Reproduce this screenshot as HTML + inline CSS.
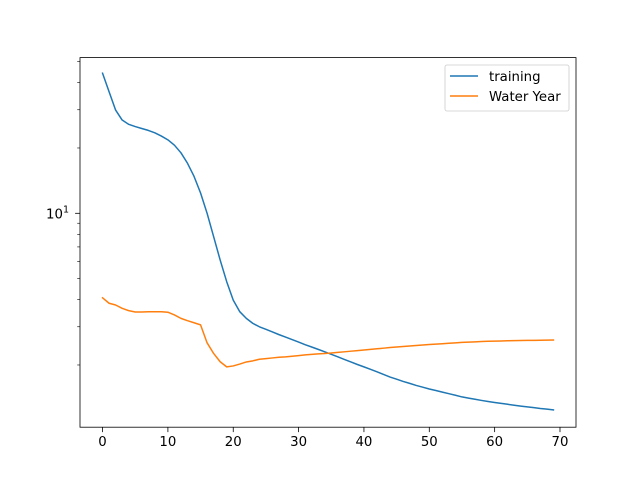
<!DOCTYPE html>
<html><head><meta charset="utf-8"><style>
body{margin:0;background:#fff}
svg text{font-family:"DejaVu Sans","Liberation Sans",sans-serif;font-size:13.3px;fill:#000}
</style></head><body>
<svg id="chart" width="640" height="480" viewBox="0 0 640 480" xmlns="http://www.w3.org/2000/svg">
<rect width="640" height="480" fill="#fff"/>
<g id="plot"></g>
</svg>
<script>
const epochs = Array.from({length:70},(_,i)=>i);
const trainingValues = [44.2,36.3,29.9,26.9,25.7,25.1,24.6,24.1,23.5,22.7,21.8,20.6,19.0,17.0,14.8,12.4,10.0,7.8,6.09,4.84,3.98,3.52,3.28,3.11,3.0,2.92,
2.84,2.76,2.69,2.62,2.55,2.48,2.42,2.36,2.30,2.24,2.18,2.12,2.065,2.01,1.96,1.91,1.86,1.81,1.76,1.72,1.68,1.645,1.61,1.58,1.55,1.525,1.50,1.475,1.45,1.425,1.407,1.39,1.373,1.357,1.343,1.33,1.318,1.305,1.293,1.283,1.272,1.261,1.252,1.241];
const waterYearValues = [4.08,3.85,3.78,3.65,3.56,3.51,3.51,3.52,3.52,3.52,3.50,3.40,3.28,3.20,3.13,3.06,2.53,2.26,2.07,1.96,1.98,2.02,2.065,2.09,2.125,2.14,
2.155,2.17,2.18,2.195,2.21,2.225,2.237,2.25,2.26,2.27,2.286,2.30,2.315,2.33,2.344,2.36,2.375,2.39,2.407,2.42,2.433,2.446,2.459,2.472,2.485,2.496,2.506,2.517,2.53,2.541,2.549,2.557,2.565,2.571,2.576,2.581,2.587,2.59,2.592,2.595,2.598,2.60,2.603,2.606];
const xTicks = [0,10,20,30,40,50,60,70];
const yMinorTicks = [2,3,4,5,6,7,8,9,20,30,40,50];
const seriesNames = ["training","Water Year"];
const seriesColors = ["#1f77b4","#ff7f0e"];

const L=80,R=576,T=57.6,B=427.2;
const xMin=-3.45,xMax=72.45;
const logMin=0.0143,logMax=1.7175;
const X=v=>L+(v-xMin)/(xMax-xMin)*(R-L);
const Y=v=>B-(Math.log10(v)-logMin)/(logMax-logMin)*(B-T);
const NS="http://www.w3.org/2000/svg";
const g=document.getElementById('plot');
function mk(tag,attrs,parent){const e=document.createElementNS(NS,tag);for(const k in attrs)e.setAttribute(k,attrs[k]);(parent||g).appendChild(e);return e;}

[trainingValues,waterYearValues].forEach((vals,si)=>{
  const d=vals.map((v,i)=>(i?'L':'M')+X(epochs[i]).toFixed(2)+' '+Y(v).toFixed(2)).join(' ');
  const p=mk('path',{d:d,fill:'none',stroke:seriesColors[si],'stroke-width':1.5,'stroke-linejoin':'round','stroke-linecap':'square'});
  
  
});

const fr=mk('rect',{x:L,y:T,width:R-L,height:B-T,fill:'none',stroke:'#000','stroke-width':0.8});



xTicks.forEach(t=>{
  const x=X(t);
  const tk=mk('line',{x1:x,x2:x,y1:B,y2:B+4.9,stroke:'#000','stroke-width':0.8});
  
  
  const tx=mk('text',{x:x,y:B+19,'text-anchor':'middle'});
  tx.textContent=t;
  
  
});

{
  const y=Y(10);
  const tk=mk('line',{x1:L-4.9,x2:L,y1:y,y2:y,stroke:'#000','stroke-width':0.8});
  
  
  const tx=mk('text',{x:L-11,y:y+5,'text-anchor':'end'});
  tx.innerHTML='10<tspan dy="-6" font-size="9.5">1</tspan>';
  
  
}
yMinorTicks.forEach(t=>{
  const y=Y(t);
  const tk=mk('line',{x1:L-2.8,x2:L,y1:y,y2:y,stroke:'#000','stroke-width':0.6});
  
  
});

const lg=mk('g',{});


mk('rect',{x:445,y:65,width:124,height:46,rx:2,fill:'#fff','fill-opacity':0.8,stroke:'#ccc','stroke-width':0.8},lg);
seriesNames.forEach((n,i)=>{
  const y=76+i*20;
  const ln=mk('line',{x1:450,x2:478,y1:y,y2:y,stroke:seriesColors[i],'stroke-width':1.5},lg);
  
  
  const tx=mk('text',{x:489,y:y+5},lg);
  tx.textContent=n;
  
  
});
</script>
</body></html>
